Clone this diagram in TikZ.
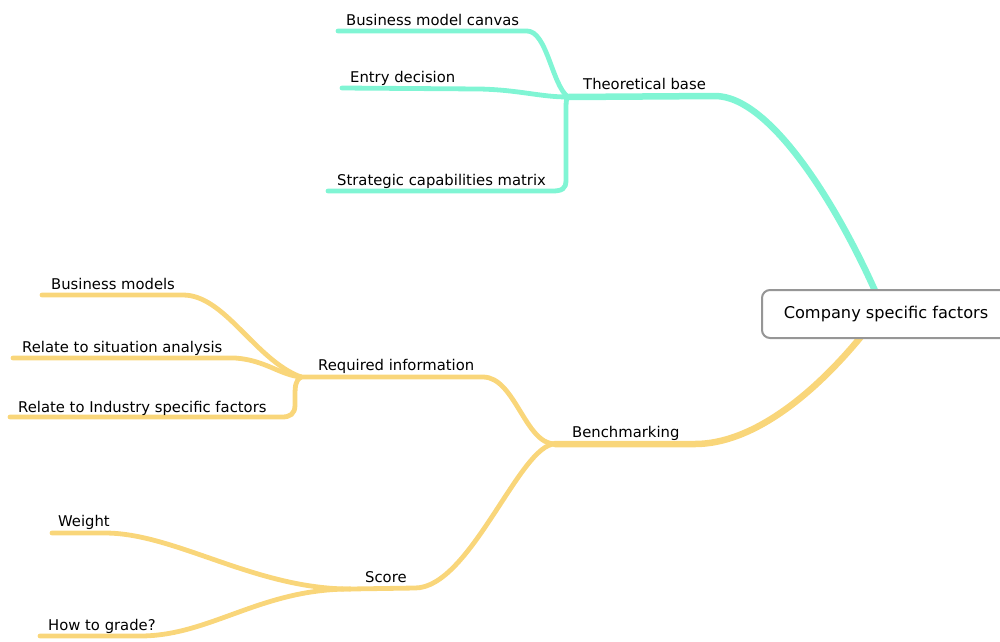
\documentclass[tikz,border=0pt]{standalone}
\usepackage{fontspec}
\setmainfont{DejaVu Sans}
\usetikzlibrary{backgrounds}
\definecolor{mintline}{RGB}{128,245,212}
\definecolor{sandline}{RGB}{249,214,122}
\definecolor{rootframe}{RGB}{150,150,150}
\begin{document}
\begin{tikzpicture}[x=1pt,y=-1pt,
  topic/.style={anchor=base west, inner sep=0pt, font=\fontsize{14.8}{16}\selectfont},
  rootbox/.style={draw=rootframe, line width=2pt, fill=white, rounded corners=8pt,
    minimum width=248pt, minimum height=48pt, inner sep=0pt,
    font=\fontsize{16.2}{18}\selectfont},
  trunk/.style={line width=6.5pt, line cap=round},
  twig/.style={line width=4.8pt, line cap=round}]
\useasboundingbox (0,0) rectangle (1000,641);

% central topic
\node[rootbox] (cs) at (886,314) {Company specific factors};

% topic labels
\node[topic] (tb)  at (583,89)  {Theoretical base};
\node[topic] (bmc) at (346,25)  {Business model canvas};
\node[topic] (ed)  at (350,82)  {Entry decision};
\node[topic] (scm) at (337,185) {Strategic capabilities matrix};
\node[topic] (bm)  at (572,437) {Benchmarking};
\node[topic] (ri)  at (318,370) {Required information};
\node[topic] (bmo) at (51,289)  {Business models};
\node[topic] (rs)  at (22,352)  {Relate to situation analysis};
\node[topic] (rin) at (18,412)  {Relate to Industry specific factors};
\node[topic] (sc)  at (365,582) {Score};
\node[topic] (wt)  at (58,526)  {Weight};
\node[topic] (hg)  at (48,630)  {How to grade?};

% branch anchors
\coordinate (csT)  at (880,302);
\coordinate (csB)  at (868,328);
\coordinate (tbJ)  at (568,97);
\coordinate (bmcL) at (338,31);
\coordinate (edL)  at (342,88);
\coordinate (scmL) at (328,191);
\coordinate (bmJ)  at (555,444);
\coordinate (riJ)  at (301,377);
\coordinate (bmoL) at (42,295);
\coordinate (rsL)  at (13,358);
\coordinate (rinL) at (10,417);
\coordinate (scJ)  at (350,589);
\coordinate (wtL)  at (52,533);
\coordinate (hgL)  at (40,636);

\begin{pgfonlayer}{background}
% theoretical base (mint)
\draw[trunk, mintline] (csT) .. controls (838,205) and (770,96) .. (715,96) -- (tbJ);
\draw[twig, mintline] (bmcL) -- (527,31) .. controls (547,31) and (552,85) .. (tbJ);
\draw[twig, mintline] (edL) -- (480,89) .. controls (520,90) and (540,97) .. (tbJ);
\draw[twig, mintline] (tbJ) .. controls (566,98) and (566,102) .. (566,115) -- (566,180)
  .. controls (566,189) and (562,191) .. (552,191) -- (scmL);

% benchmarking (sand)
\draw[trunk, sandline] (csB) .. controls (815,395) and (752,444) .. (695,444) -- (bmJ);
\draw[twig, sandline] (bmJ) .. controls (525,444) and (515,377) .. (483,377) -- (riJ);
\draw[twig, sandline] (bmJ) .. controls (520,444) and (470,588) .. (415,588) -- (scJ);

% required information
\draw[twig, sandline] (bmoL) -- (183,295) .. controls (225,295) and (255,360) .. (riJ);
\draw[twig, sandline] (rsL) -- (235,358) .. controls (265,360) and (280,375) .. (riJ);
\draw[twig, sandline] (riJ) .. controls (296,380) and (295,385) .. (295,395) -- (295,405)
  .. controls (295,414) and (290,417) .. (282,417) -- (rinL);

% score
\draw[twig, sandline] (wtL) -- (105,533) .. controls (175,533) and (255,589) .. (scJ);
\draw[twig, sandline] (hgL) -- (140,636) .. controls (210,636) and (260,589) .. (scJ);
\end{pgfonlayer}
\end{tikzpicture}
\end{document}
